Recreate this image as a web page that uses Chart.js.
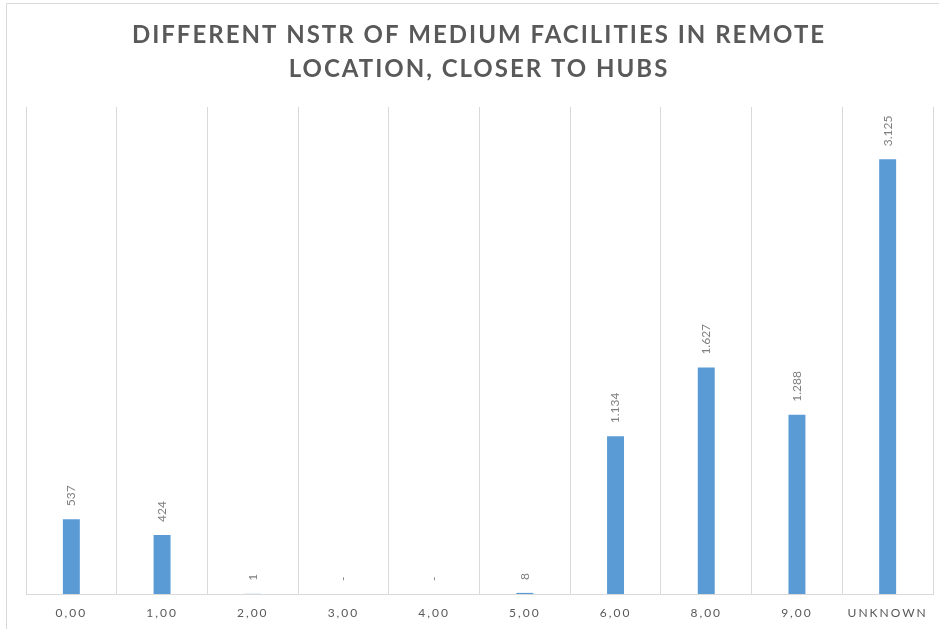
<!DOCTYPE html>
<html lang="en">

<head>
    <meta charset="UTF-8">
    <meta name="viewport" content="width=device-width, initial-scale=1.0">
    <script src="https://cdn.jsdelivr.net/npm/chart.js@4.4.1/dist/chart.umd.min.js"></script>
    <title>NSTR medium facilities</title>
    <style>
        body { margin: 0; background: #fff; }
        #wrap { width: 939px; height: 629px; position: relative; }
    </style>
</head>

<body>
    <div id="wrap">
        <canvas id="myChart" width="939" height="629"></canvas>
    </div>
    <script>
        // chart data
        const titleLines = ['DIFFERENT NSTR OF MEDIUM FACILITIES IN REMOTE', 'LOCATION, CLOSER TO HUBS'];
        const categories = ['0,00', '1,00', '2,00', '3,00', '4,00', '5,00', '6,00', '8,00', '9,00', 'UNKNOWN'];
        const facilityCounts = [537, 424, 1, 0, 0, 8, 1134, 1627, 1288, 3125];
        const yMax = 3500;

        const GREY_TEXT = '#595959';
        const GRID = '#d9d9d9';

        // 1134 -> "1.134", 0 -> "-"
        var f_fmt = function (v) {
            if (v === 0) return '-';
            return String(v).replace(/\B(?=(\d{3})+(?!\d))/g, '.');
        };

        // outer frame + spaced title, and letter spacing for the axis labels
        const framePlugin = {
            id: 'frame',
            beforeDraw(chart) {
                const c = chart.ctx;
                c.save();
                c.strokeStyle = GRID;
                c.lineWidth = 1;
                c.beginPath();
                c.moveTo(6.5, chart.height);
                c.lineTo(6.5, 3.5);
                c.lineTo(chart.width, 3.5);
                c.stroke();

                c.fillStyle = GREY_TEXT;
                c.font = 'bold 24px Lato';
                c.letterSpacing = '2px';
                c.textAlign = 'center';
                c.textBaseline = 'middle';
                titleLines.forEach(function (line, i) {
                    c.fillText(line, 479, 35 + i * 34);
                });
                c.restore();
                c.letterSpacing = '2px';
            },
            beforeDatasetsDraw(chart) {
                chart.ctx.letterSpacing = '0px';
            }
        };

        // rotated value labels above each bar
        const valueLabels = {
            id: 'valueLabels',
            afterDatasetsDraw(chart) {
                const c = chart.ctx;
                const meta = chart.getDatasetMeta(0);
                c.save();
                c.font = '12px Lato';
                c.fillStyle = '#7f7f7f';
                c.textAlign = 'left';
                c.textBaseline = 'middle';
                meta.data.forEach(function (bar, i) {
                    c.save();
                    c.translate(bar.x, bar.y - 13);
                    c.rotate(-Math.PI / 2);
                    c.fillText(f_fmt(facilityCounts[i]), 0, 0);
                    c.restore();
                });
                c.restore();
            }
        };

        const ctx = document.getElementById('myChart').getContext('2d');
        const myChart = new Chart(ctx, {
            type: 'bar',
            data: {
                labels: categories,
                datasets: [{
                    data: facilityCounts,
                    backgroundColor: '#5b9bd5',
                    borderWidth: 0,
                    categoryPercentage: 1,
                    barPercentage: 0.187
                }]
            },
            options: {
                responsive: false,
                animation: false,
                layout: {
                    padding: { top: 107, left: 26, right: 6, bottom: 0 }
                },
                plugins: {
                    legend: { display: false },
                    title: { display: false },
                    tooltip: { enabled: false }
                },
                scales: {
                    x: {
                        offset: true,
                        afterFit: function (scale) { scale.height = 35; },
                        grid: {
                            offset: true,
                            color: GRID,
                            lineWidth: 1,
                            drawTicks: false
                        },
                        border: { color: GRID, width: 1 },
                        ticks: {
                            color: GREY_TEXT,
                            font: { family: 'Lato', size: 12 },
                            padding: 12,
                            autoSkip: false,
                            maxRotation: 0
                        }
                    },
                    y: {
                        display: false,
                        min: 0,
                        max: yMax
                    }
                }
            },
            plugins: [framePlugin, valueLabels]
        });
    </script>

</body>

</html>
